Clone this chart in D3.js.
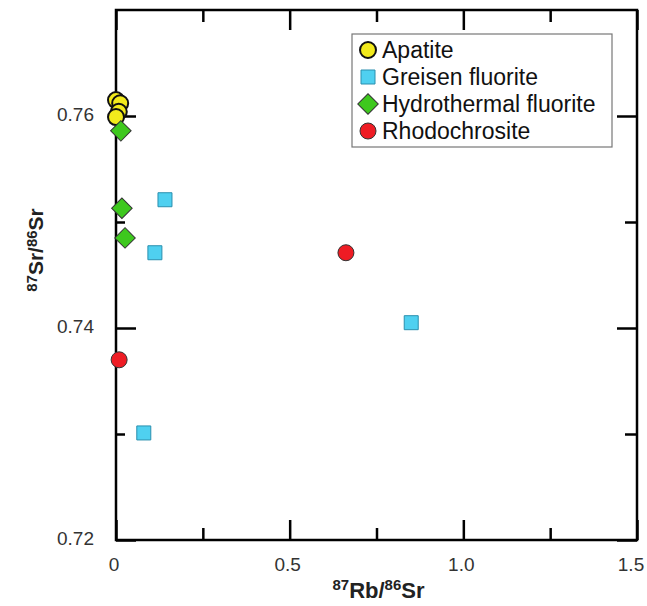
<!DOCTYPE html>
<html>
<head>
<meta charset="utf-8">
<script src="https://cdn.jsdelivr.net/npm/d3@7"></script>
<style>
  body { margin: 0; background: #fff; }
  svg text { font-family: "Liberation Sans", Arial, sans-serif; }
</style>
</head>
<body>
<div id="chart"></div>
<script>
// series data: [87Rb/86Sr, 87Sr/86Sr]
const apatite = [[0.0, 0.7615], [0.012, 0.7612], [0.008, 0.7604], [0.0, 0.7599]];
const greisenFluorite = [[0.141, 0.7521], [0.112, 0.7471], [0.850, 0.7405], [0.080, 0.7301]];
const hydrothermalFluorite = [[0.014, 0.7586], [0.017, 0.7513], [0.026, 0.7485]];
const rhodochrosite = [[0.009, 0.7370], [0.662, 0.7471]];

const xMajor = [0, 0.5, 1.0, 1.5];
const xMinor = [0.25, 0.75, 1.25];
const yMajor = [0.72, 0.74, 0.76];
const yMinor = [0.73, 0.75];
const xTickLabels = ["0", "0.5", "1.0", "1.5"];
const yTickLabels = ["0.72", "0.74", "0.76"];

const series = [
    { name: "Apatite", data: apatite, shape: "circle", fill: "#f2ea1c" },
    { name: "Greisen fluorite", data: greisenFluorite, shape: "square", fill: "#4fd0f0" },
    { name: "Hydrothermal fluorite", data: hydrothermalFluorite, shape: "diamond", fill: "#3ec81e" },
    { name: "Rhodochrosite", data: rhodochrosite, shape: "circle", fill: "#ee1c24" }
];

const width = 647, height = 606;
const margin = { top: 10, right: 10, bottom: 66, left: 116 };
const w = width - margin.left - margin.right;
const h = height - margin.top - margin.bottom;

const svg = d3.select("#chart").append("svg")
    .attr("width", width)
    .attr("height", height);

const g = svg.append("g")
    .attr("transform", `translate(${margin.left},${margin.top})`);

const x = d3.scaleLinear().domain([0, 1.5]).range([0, w]);
const y = d3.scaleLinear().domain([0.72, 0.77]).range([h, 0]);

// inward ticks on all four sides
function tickAxis(axisFn, scale, values, size, transform) {
    const a = g.append("g")
        .attr("transform", transform)
        .call(axisFn(scale).tickValues(values).tickSize(-size).tickFormat(""));
    a.select(".domain").remove();
    a.selectAll("line").attr("stroke", "#000").attr("stroke-width", 2.5);
}
tickAxis(d3.axisBottom, x, xMajor, 20, `translate(0,${h})`);
tickAxis(d3.axisBottom, x, xMinor, 12, `translate(0,${h})`);
tickAxis(d3.axisTop, x, xMajor, 20, "translate(0,0)");
tickAxis(d3.axisTop, x, xMinor, 12, "translate(0,0)");
tickAxis(d3.axisLeft, y, yMajor, 20, "translate(0,0)");
tickAxis(d3.axisLeft, y, yMinor, 9, "translate(0,0)");
tickAxis(d3.axisRight, y, yMajor, 20, `translate(${w},0)`);
tickAxis(d3.axisRight, y, yMinor, 12, `translate(${w},0)`);

// frame
g.append("rect")
    .attr("width", w).attr("height", h)
    .attr("fill", "none").attr("stroke", "#000").attr("stroke-width", 2.5);

// tick labels
g.selectAll(".xlab").data(xMajor).join("text")
    .attr("x", (d, i) => x(d) - (i === xMajor.length - 1 ? 6 : 2)).attr("y", h + 31)
    .attr("text-anchor", "middle")
    .attr("font-size", 19).attr("fill", "#333")
    .text((d, i) => xTickLabels[i]);

g.selectAll(".ylab").data(yMajor).join("text")
    .attr("x", -22).attr("y", d => y(d) + 5)
    .attr("text-anchor", "end")
    .attr("font-size", 19).attr("fill", "#333")
    .text((d, i) => yTickLabels[i]);

// axis titles
const xt = svg.append("text")
    .attr("x", margin.left + w / 2 + 2).attr("y", 598)
    .attr("text-anchor", "middle")
    .attr("font-size", 22).attr("font-weight", "bold").attr("fill", "#222");
xt.append("tspan").attr("font-size", 15).attr("dy", -8).text("87");
xt.append("tspan").attr("dy", 8).text("Rb/");
xt.append("tspan").attr("font-size", 15).attr("dy", -8).text("86");
xt.append("tspan").attr("dy", 8).text("Sr");

const yt = svg.append("text")
    .attr("transform", "translate(43,250) rotate(-90)")
    .attr("text-anchor", "middle")
    .attr("font-size", 21).attr("font-weight", "bold").attr("fill", "#222");
yt.append("tspan").attr("font-size", 15).attr("dy", -6).text("87");
yt.append("tspan").attr("dy", 6).text("Sr/");
yt.append("tspan").attr("font-size", 15).attr("dy", -6).text("86");
yt.append("tspan").attr("dy", 6).text("Sr");

// marker drawing
const symbols = {
    circle: d3.symbol().type(d3.symbolCircle).size(Math.PI * 8 * 8),
    square: d3.symbol().type(d3.symbolSquare).size(14 * 14),
    diamond: d3.symbol().type(d3.symbolSquare).size(14.5 * 14.5)
};
function marker(sel, s) {
    sel.attr("d", symbols[s.shape]())
        .attr("fill", s.fill)
        .attr("stroke", s.name === "Apatite" ? "#111" : (s.shape === "square" ? "#2a8fae" : "#333"))
        .attr("stroke-width", s.name === "Apatite" ? 2 : 1);
}

series.forEach(s => {
    g.selectAll(null).data(s.data).join("path")
        .attr("transform", d => `translate(${x(d[0])},${y(d[1])})` + (s.shape === "diamond" ? " rotate(45)" : ""))
        .call(marker, s);
});

// legend
const lg = svg.append("g").attr("transform", "translate(352,34)");
lg.append("rect")
    .attr("width", 260).attr("height", 113)
    .attr("fill", "#fff").attr("stroke", "#777").attr("stroke-width", 1.2);
series.forEach((s, i) => {
    const cy = 16 + i * 27;
    lg.append("path")
        .attr("transform", `translate(16,${cy})` + (s.shape === "diamond" ? " rotate(45)" : ""))
        .call(marker, s);
    lg.append("text")
        .attr("x", 30).attr("y", cy + 8)
        .attr("font-size", 23).attr("fill", "#111")
        .text(s.name);
});
</script>
</body>
</html>
